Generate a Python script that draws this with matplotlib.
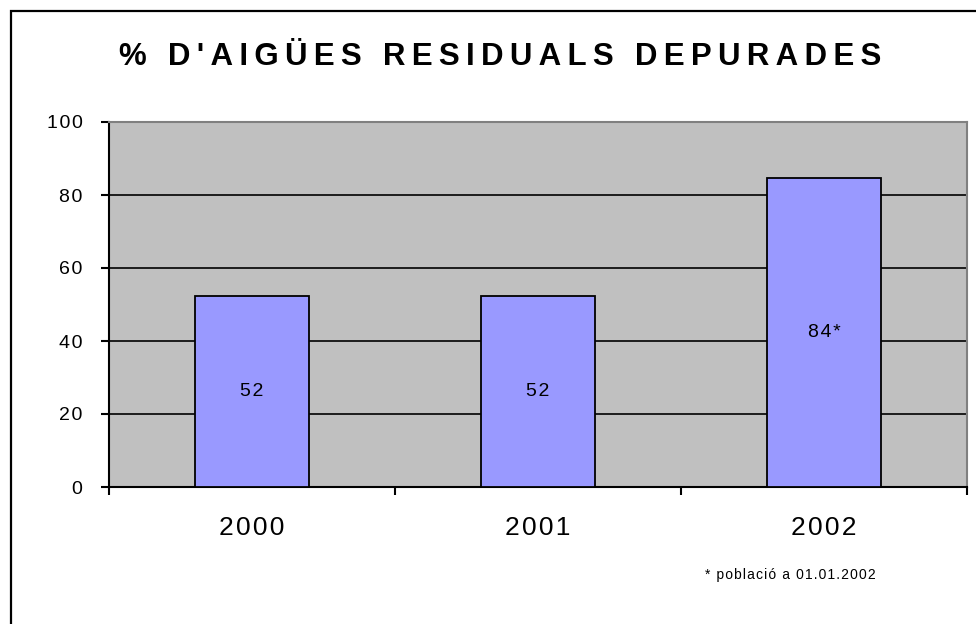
import matplotlib.pyplot as plt
from matplotlib.patches import Rectangle
from matplotlib.ticker import FixedLocator

years = ['2000', '2001', '2002']
values = [52.3, 52.3, 84.7]
bar_labels = ['52', '52', '84*']
yticks = [0, 20, 40, 60, 80, 100]
title = "% D'AIGÜES RESIDUALS DEPURADES"
note = "* població a 01.01.2002"

FONT = ['Liberation Sans', 'DejaVu Sans']
plt.rcParams['font.family'] = FONT


def track(s, gap):
    # widen letter spacing like the original (excel style)
    return gap.join(s)


fig = plt.figure(figsize=(9.76, 6.24), dpi=100)
ax = fig.add_axes([109 / 976, 1 - 487 / 624, (967 - 109) / 976, (487 - 122) / 624])

x = list(range(len(years)))
bars = ax.bar(x, values, width=0.4, color='#9999FF', edgecolor='black', linewidth=1.3, zorder=3)
ax.bar_label(bars, labels=[track(b, '\u200a') for b in bar_labels], label_type='center',
             fontsize=14, color='black')

ax.set_facecolor('#C0C0C0')
ax.set_xlim(-0.5, 2.5)
ax.set_ylim(0, 100)
ax.set_yticks(yticks)
ax.set_yticklabels([track(str(t), '\u200a') for t in yticks], fontsize=14)
ax.yaxis.grid(True, color='black', linewidth=1.2, zorder=1)
ax.set_axisbelow(True)

ax.set_xticks(x)
ax.set_xticklabels([track(y, '\u200a') for y in years], fontsize=19)
ax.xaxis.set_minor_locator(FixedLocator([-0.5, 0.5, 1.5, 2.5]))
ax.tick_params(axis='x', which='major', length=0, pad=21)
ax.tick_params(axis='x', which='minor', length=6, width=1.5, direction='out')
ax.tick_params(axis='y', length=6, width=1.5, direction='out', pad=13)

for side in ['left', 'bottom']:
    ax.spines[side].set_color('black')
    ax.spines[side].set_linewidth(1.5)
for side in ['top', 'right']:
    ax.spines[side].set_color('#808080')
    ax.spines[side].set_linewidth(1.5)

fig.text(0.512, 0.909, track(title, '\u2009'), fontsize=22.5, fontweight='bold',
         ha='center', va='center')
fig.text(0.81, 0.078, track(note, '\u200a'), fontsize=10, ha='center', va='center')

fig.add_artist(Rectangle((11 / 976, -0.1), 1.2, 1 - 11 / 624 + 0.1, fill=False,
                         edgecolor='black', linewidth=1.6, transform=fig.transFigure,
                         clip_on=False))

fig.savefig('out.png', dpi=100)
